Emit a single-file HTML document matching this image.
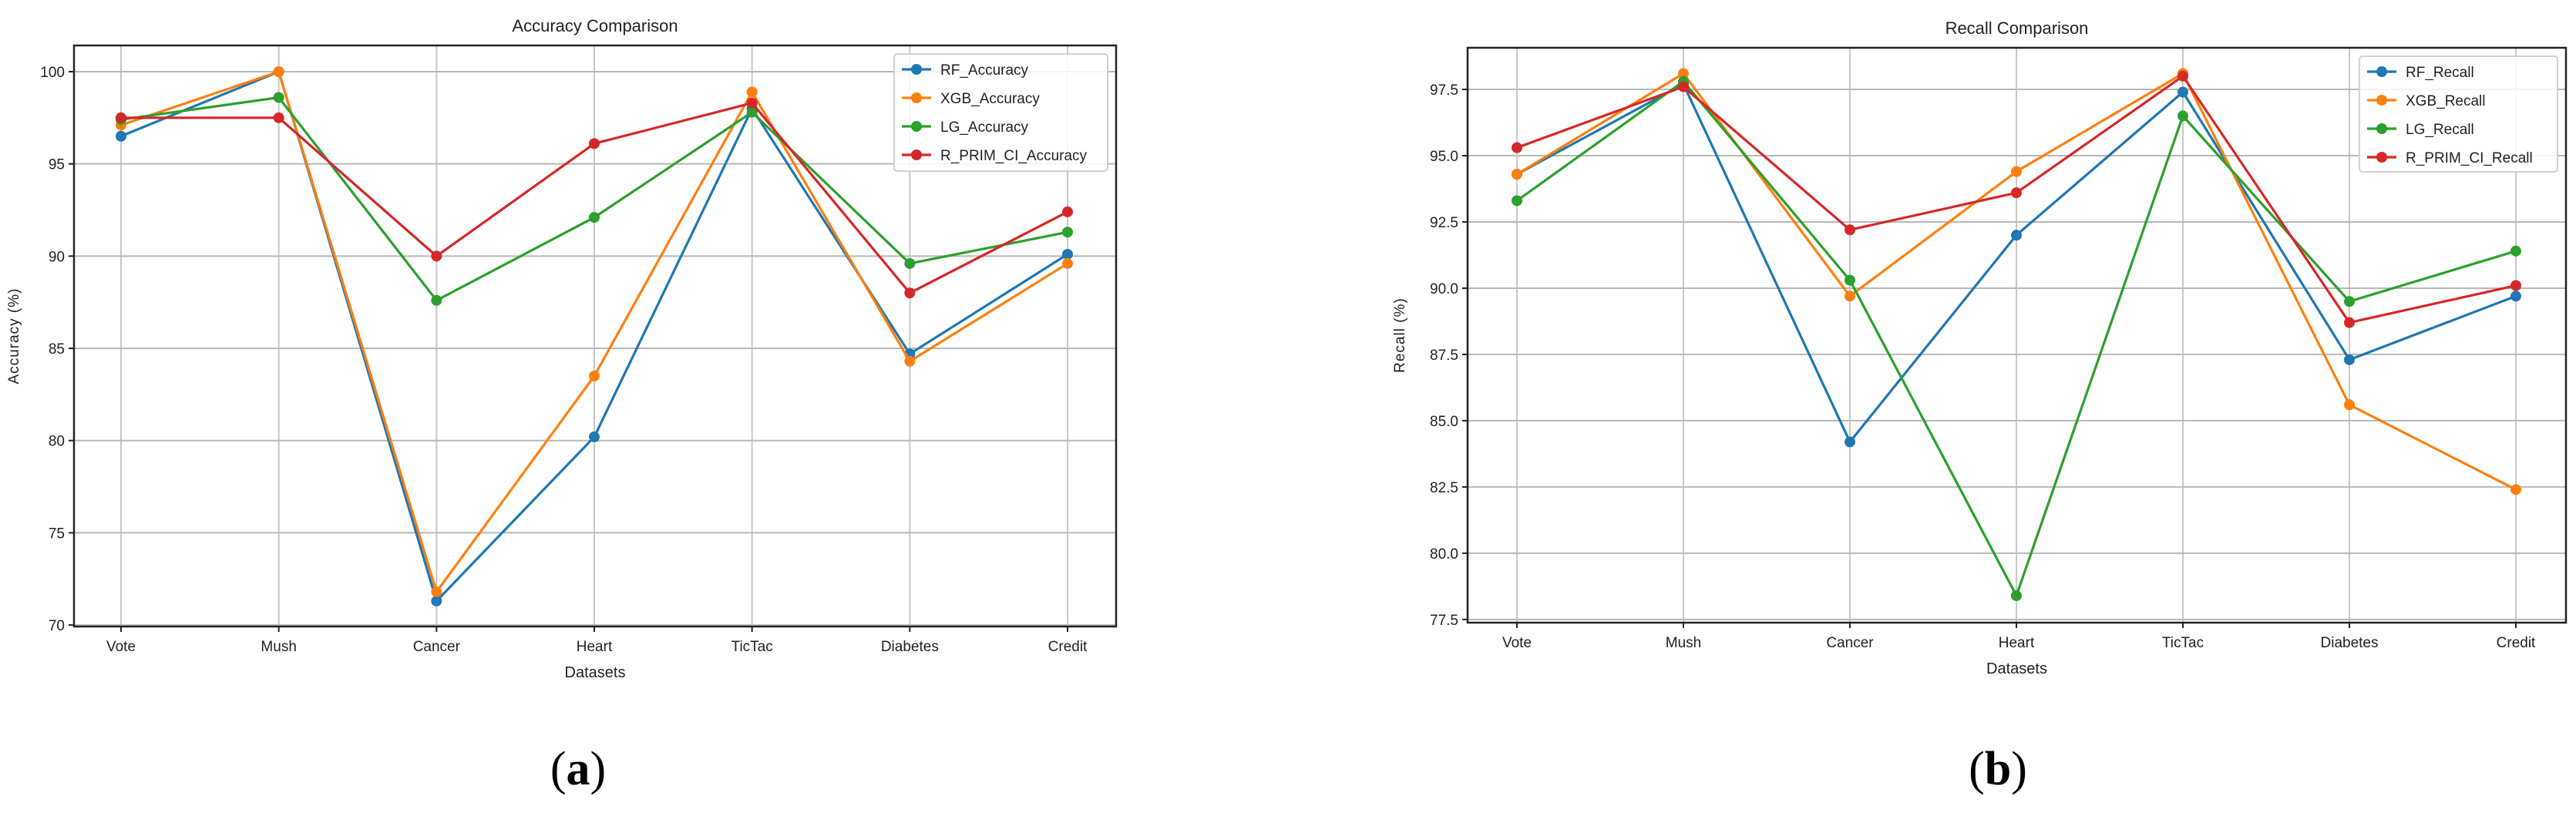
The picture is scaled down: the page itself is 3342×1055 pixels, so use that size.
<!DOCTYPE html>
<html><head><meta charset="utf-8"><style>
html,body{margin:0;padding:0;background:#fff;}
svg{display:block;font-family:"Liberation Sans",sans-serif;}
</style></head><body>
<svg id="root" width="3342" height="1055" viewBox="0 0 3342 1055" xmlns="http://www.w3.org/2000/svg">
<text x="750" y="1018" font-family="Liberation Serif,serif" font-size="62" text-anchor="middle">(<tspan font-weight="bold">a</tspan>)</text>
<text x="2592" y="1018" font-family="Liberation Serif,serif" font-size="62" text-anchor="middle">(<tspan font-weight="bold">b</tspan>)</text>
</svg>
<script>
const categories = ["Vote","Mush","Cancer","Heart","TicTac","Diabetes","Credit"];
const seriesColors = ["#1f77b4","#ff7f0e","#2ca02c","#d62728"];
const accNames = ["RF_Accuracy","XGB_Accuracy","LG_Accuracy","R_PRIM_CI_Accuracy"];
const accRF = [96.5,100,71.3,80.2,98.0,84.7,90.1];
const accXGB = [97.1,100,71.8,83.5,98.9,84.3,89.6];
const accLG = [97.4,98.6,87.6,92.1,97.8,89.6,91.3];
const accR = [97.5,97.5,90.0,96.1,98.3,88.0,92.4];
const accTicks = [70,75,80,85,90,95,100];
const accTickLabels = ["70","75","80","85","90","95","100"];
const recNames = ["RF_Recall","XGB_Recall","LG_Recall","R_PRIM_CI_Recall"];
const recRF = [94.3,97.7,84.2,92.0,97.4,87.3,89.7];
const recXGB = [94.3,98.1,89.7,94.4,98.1,85.6,82.4];
const recLG = [93.3,97.8,90.3,78.4,96.5,89.5,91.4];
const recR = [95.3,97.6,92.2,93.6,98.0,88.7,90.1];
const recTicks = [77.5,80,82.5,85,87.5,90,92.5,95,97.5];
const recTickLabels = ["77.5","80.0","82.5","85.0","87.5","90.0","92.5","95.0","97.5"];

const NS="http://www.w3.org/2000/svg";
const root=document.getElementById('root');
function mk(tag,attrs,parent){const e=document.createElementNS(NS,tag);for(const k in attrs)e.setAttribute(k,attrs[k]);(parent||root).appendChild(e);return e;}

function chart(cfg){
  const g=mk('g',{});
  
  
  const {L,R,T,B,x0,x1,ymin,ymax}=cfg;
  const xs=i=>x0+(x1-x0)*i/(categories.length-1);
  const ys=v=>B-(v-ymin)/(ymax-ymin)*(B-T);
  // grid
  categories.forEach((c,i)=>{
    const l=mk('line',{x1:xs(i),x2:xs(i),y1:T,y2:B,stroke:'#c8c8c8','stroke-width':2},g);
    
    
    const t=mk('text',{x:xs(i),y:B+32,'font-size':19,'text-anchor':'middle',fill:'#222'},g);
    t.textContent=c;
    
    
    mk('line',{x1:xs(i),x2:xs(i),y1:B,y2:B+7,stroke:'#222','stroke-width':2},g);
  });
  cfg.ticks.forEach((v,i)=>{
    const l=mk('line',{x1:L,x2:R,y1:ys(v),y2:ys(v),stroke:'#b8b8b8','stroke-width':2},g);
    
    
    mk('line',{x1:L-7,x2:L,y1:ys(v),y2:ys(v),stroke:'#222','stroke-width':2},g);
    const t=mk('text',{x:L-12,y:ys(v)+7,'font-size':19,'text-anchor':'end',fill:'#222'},g);
    t.textContent=cfg.tickLabels[i];
    
    
  });
  cfg.series.forEach((s,si)=>{
    const pts=s.map((v,i)=>xs(i)+','+ys(v)).join(' ');
    const pl=mk('polyline',{points:pts,fill:'none',stroke:seriesColors[si],'stroke-width':3.2},g);
    
    
    s.forEach((v,i)=>{
      const c=mk('circle',{cx:xs(i),cy:ys(v),r:7,fill:seriesColors[si]},g);
      
      
    });
  });
  const fr=mk('rect',{x:L,y:T,width:R-L,height:B-T,fill:'none',stroke:'#222','stroke-width':2.5},g);
  
  
  const ti=mk('text',{x:(L+R)/2,y:T-18,'font-size':22,'text-anchor':'middle',fill:'#222'},g);
  ti.textContent=cfg.title;
  
  
  const xl=mk('text',{x:(L+R)/2,y:B+66,'font-size':20,'text-anchor':'middle',fill:'#222'},g);
  xl.textContent='Datasets';
  
  
  const yl=mk('text',{x:0,y:0,'font-size':19,'text-anchor':'middle',fill:'#222','letter-spacing':'1',transform:`translate(${cfg.ylx},${(T+B)/2}) rotate(-90)`},g);
  yl.textContent=cfg.ylabel;
  
  
  const lg=cfg.legend;
  const box=mk('rect',{x:lg.x,y:lg.y,width:lg.w,height:lg.h,fill:'#fff','fill-opacity':0.85,stroke:'#d0d0d0','stroke-width':2,rx:4},g);
  
  
  cfg.names.forEach((n,i)=>{
    const y=lg.y+20+i*37;
    const e=mk('g',{},g);
    
    
    mk('line',{x1:lg.x+10,x2:lg.x+48,y1:y,y2:y,stroke:seriesColors[i],'stroke-width':3.2},e);
    mk('circle',{cx:lg.x+29,cy:y,r:7,fill:seriesColors[i]},e);
    const t=mk('text',{x:lg.x+60,y:y+7,'font-size':19,fill:'#222'},e);
    t.textContent=n;
  });
}
chart({id:'accuracy-chart',L:96,R:1448,T:59,B:813,x0:157,x1:1385,ymin:69.92,ymax:101.42,
  ticks:accTicks,tickLabels:accTickLabels,series:[accRF,accXGB,accLG,accR],names:accNames,
  title:'Accuracy Comparison',ylabel:'Accuracy (%)',ylx:24,legend:{x:1160,y:70,w:277,h:152}});
chart({id:'recall-chart',L:1904,R:3329,T:62,B:808,x0:1968,x1:3264,ymin:77.38,ymax:99.07,
  ticks:recTicks,tickLabels:recTickLabels,series:[recRF,recXGB,recLG,recR],names:recNames,
  title:'Recall Comparison',ylabel:'Recall (%)',ylx:1822,legend:{x:3061,y:73,w:257,h:150}});
</script>
</body></html>
